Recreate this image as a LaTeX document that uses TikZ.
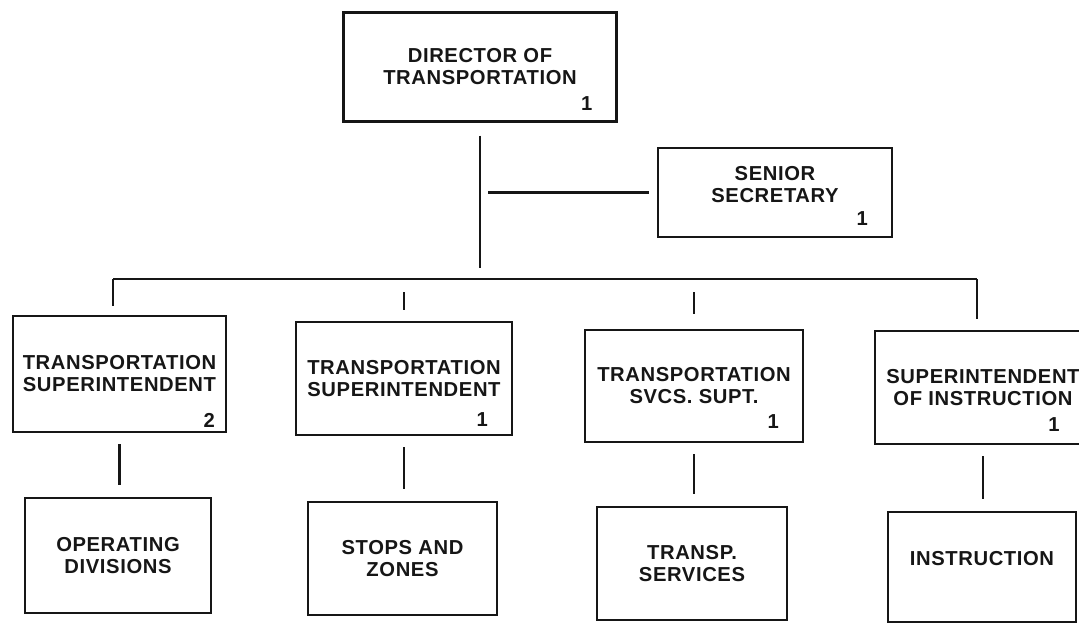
\documentclass[tikz,border=0pt]{standalone}
\usepackage{fontspec}
\usepackage{xcolor}
\usepackage{tikz}
\usetikzlibrary{positioning}
\setmainfont{Liberation Sans}
\newfontfamily\orgfont{Liberation Sans}[LetterSpace=3.0]
\definecolor{cink}{RGB}{22,22,22}
\tikzset{
  box/.style={rectangle, draw=cink, line width=1.3pt, align=center,
              font=\orgfont\bfseries\fontsize{11.5}{12.5}\selectfont,
              text=cink, inner sep=0pt},
  cnt/.style={font=\orgfont\bfseries\fontsize{11.5}{12.5}\selectfont,
              text=cink, inner sep=0pt, anchor=south east},
  link/.style={draw=cink, line width=1.3pt},
}

\begin{document}
\begin{tikzpicture}
  \useasboundingbox (0,0) rectangle (21.58,-12.5);
  \clip (0,0) rectangle (21.58,-12.5);

  % ── Top ────────────────────────────────────────────────────────────────────
  \node[box, minimum width=5.46cm, minimum height=2.18cm] at (9.60,-1.34)  (dir)    {DIRECTOR OF\\TRANSPORTATION};
  \node[box, minimum width=4.68cm, minimum height=1.78cm] at (15.50,-3.85) (sec)    {SENIOR\\SECRETARY\\[-0.25em]\mbox{}};

  % ── Superintendents ────────────────────────────────────────────────────────
  \node[box, minimum width=4.26cm, minimum height=2.32cm] at (2.39,-7.48)  (supA)   {TRANSPORTATION\\SUPERINTENDENT};
  \node[box, minimum width=4.32cm, minimum height=2.26cm] at (8.08,-7.57)  (supB)   {TRANSPORTATION\\SUPERINTENDENT};
  \node[box, minimum width=4.36cm, minimum height=2.24cm] at (13.88,-7.72) (svcs)   {TRANSPORTATION\\SVCS. SUPT.};
  \node[box, minimum width=4.32cm, minimum height=2.26cm] at (19.66,-7.75) (instsup){SUPERINTENDENT\\OF INSTRUCTION};

  % ── Units ──────────────────────────────────────────────────────────────────
  \node[box, minimum width=3.72cm, minimum height=2.30cm] at (2.36,-11.11)  (opdiv)  {OPERATING\\DIVISIONS};
  \node[box, minimum width=3.78cm, minimum height=2.26cm] at (8.05,-11.17)  (stops)  {STOPS AND\\ZONES};
  \node[box, minimum width=3.80cm, minimum height=2.26cm] at (13.84,-11.27) (tservs) {TRANSP.\\SERVICES};
  \node[box, minimum width=3.76cm, minimum height=2.20cm] at (19.64,-11.34) (instr)  {INSTRUCTION\\[-0.2em]\mbox{}};

  % ── Counts ─────────────────────────────────────────────────────────────────
  \node[cnt] at ([xshift=-0.50cm, yshift=0.24cm]dir.south east)     (dirN)     {1};
  \node[cnt] at ([xshift=-0.50cm, yshift=0.24cm]sec.south east)     (secN)     {1};
  \node[cnt] at ([xshift=-0.24cm, yshift=0.10cm]supA.south east)    (supAN)    {2};
  \node[cnt] at ([xshift=-0.50cm, yshift=0.18cm]supB.south east)    (supBN)    {1};
  \node[cnt] at ([xshift=-0.50cm, yshift=0.28cm]svcs.south east)    (svcsN)    {1};
  \node[cnt] at ([xshift=3.72cm, yshift=0.26cm]instsup.south west)  (instsupN) {1};

  % ── Lines ──────────────────────────────────────────────────────────────────
  \coordinate (busW) at (2.26,-5.58);
  \coordinate (busE) at (19.54,-5.58);
  \draw[link, shorten <=0.26cm, shorten >=0.22cm] (dir.south) -- (dir.south |- busW);
  \draw[link, shorten <=0.16cm, shorten >=0.16cm] (dir.south |- sec.west) -- (sec.west);
  \draw[link] (busW) -- (busE);
  \draw[link, shorten >=0.18cm] (busW) -- (busW |- supA.north);
  \draw[link, shorten >=0.22cm] (busE) -- (busE |- instsup.north);
  \draw[link, shorten <=0.26cm, shorten >=0.22cm] (supB.north |- busW) -- (supB.north);
  \draw[link, shorten <=0.26cm, shorten >=0.30cm] (svcs.north |- busW) -- (svcs.north);

  \draw[link, shorten <=0.22cm, shorten >=0.24cm] (supA.south)    -- (supA.south |- opdiv.north);
  \draw[link, shorten <=0.22cm, shorten >=0.24cm] (supB.south)    -- (supB.south |- stops.north);
  \draw[link, shorten <=0.22cm, shorten >=0.24cm] (svcs.south)    -- (svcs.south |- tservs.north);
  \draw[link, shorten <=0.22cm, shorten >=0.24cm] (instsup.south) -- (instsup.south |- instr.north);
\end{tikzpicture}
\end{document}
